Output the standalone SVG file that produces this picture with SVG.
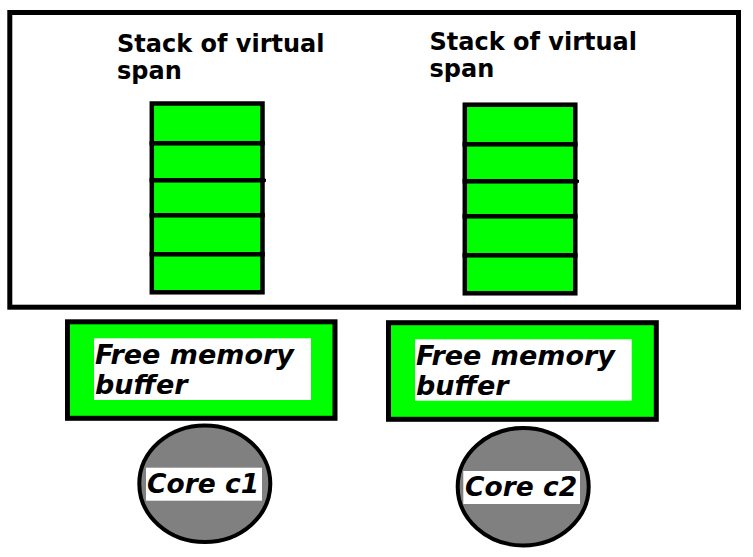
<svg xmlns="http://www.w3.org/2000/svg" width="753" height="557" viewBox="0 0 753 557">
<style>
.frame{fill:#fff;stroke:#000;stroke-width:5}
.cell{fill:#00ff00;stroke:#000;stroke-width:4.5}
.buf{fill:#00ff00;stroke:#000;stroke-width:5}
.lbl{fill:#fff;stroke:none}
.core{fill:#808080;stroke:#000;stroke-width:4}
.title{font-family:"DejaVu Sans",sans-serif;font-weight:bold;font-size:24px;fill:#000}
.it{font-family:"DejaVu Sans",sans-serif;font-weight:bold;font-style:italic;font-size:27px;fill:#000}
.ct{font-family:"DejaVu Sans",sans-serif;font-weight:bold;font-style:italic;font-size:26.5px;fill:#000}
</style>
<rect width="753" height="557" fill="#fff"/>
<g id="container">
<rect class="frame" x="9.8" y="12.5" width="728.7" height="294.7"/>
</g>
<g id="stack1">
<text class="title" x="117" y="52">Stack of virtual</text>
<text class="title" x="117" y="79">span</text>
<rect class="cell" x="151.8" y="103.5" width="110.7" height="39.8"/>
<rect class="cell" x="151.8" y="143.3" width="110.7" height="37"/>
<rect class="cell" x="151.8" y="180.3" width="110.7" height="35"/>
<rect class="cell" x="151.8" y="215.3" width="110.7" height="39"/>
<rect class="cell" x="151.8" y="254.3" width="110.7" height="38"/>
<line x1="260" y1="180.3" x2="266" y2="180.3" stroke="#000" stroke-width="3"/>
</g>
<g id="stack2">
<text class="title" x="429.5" y="50">Stack of virtual</text>
<text class="title" x="429.5" y="77">span</text>
<rect class="cell" x="464.8" y="104.7" width="110.5" height="39.6"/>
<rect class="cell" x="464.8" y="144.3" width="110.5" height="37"/>
<rect class="cell" x="464.8" y="181.3" width="110.5" height="35"/>
<rect class="cell" x="464.8" y="216.3" width="110.5" height="39"/>
<rect class="cell" x="464.8" y="255.3" width="110.5" height="38"/>
<line x1="573" y1="181.3" x2="579" y2="181.3" stroke="#000" stroke-width="3"/>
</g>
<g id="buffer1">
<rect class="buf" x="67.5" y="321.8" width="267.5" height="96.5"/>
<rect class="lbl" x="94" y="338.3" width="217" height="61.7"/>
<text class="it" x="95" y="363.5">Free memory</text>
<text class="it" x="95" y="393.5">buffer</text>
</g>
<g id="buffer2">
<rect class="buf" x="388.5" y="322.7" width="267.8" height="96.6"/>
<rect class="lbl" x="415" y="339.3" width="216.7" height="61.4"/>
<text class="it" x="416" y="364.5">Free memory</text>
<text class="it" x="416" y="394.5">buffer</text>
</g>
<g id="core1">
<ellipse class="core" cx="204.8" cy="483.7" rx="65.5" ry="58.3"/>
<rect class="lbl" x="146" y="467.7" width="116" height="33"/>
<text class="ct" x="147" y="492.5">Core c1</text>
</g>
<g id="core2">
<ellipse class="core" cx="523.2" cy="486.7" rx="65.5" ry="58.7"/>
<rect class="lbl" x="463.3" y="471" width="116.7" height="33"/>
<text class="ct" x="465" y="495.5">Core c2</text>
</g>
<g id="connectors"></g>
</svg>
